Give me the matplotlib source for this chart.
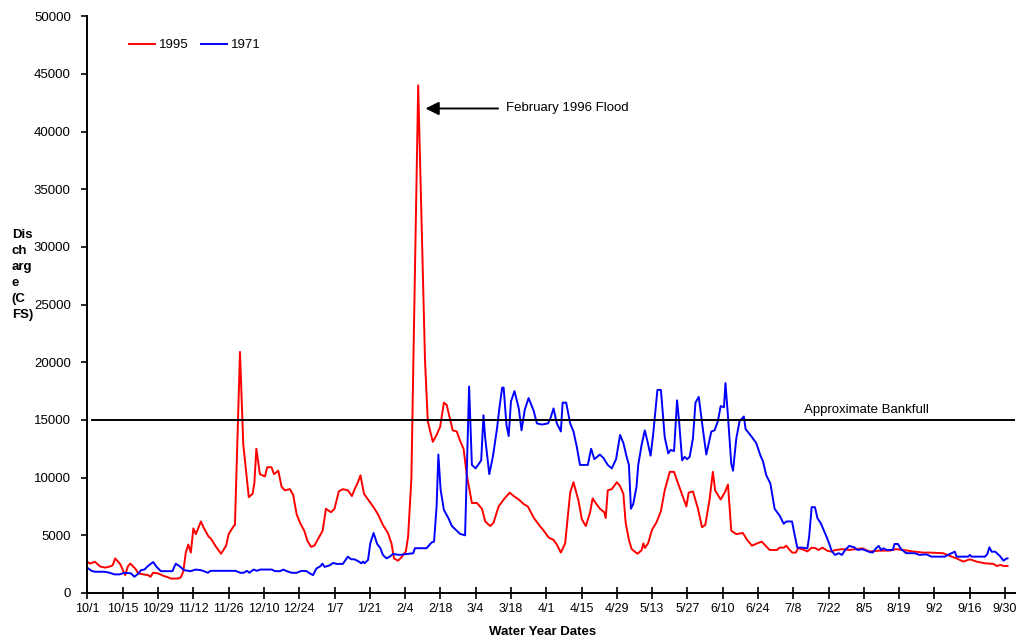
import matplotlib
matplotlib.use("Agg")
import matplotlib.pyplot as plt

plt.rcParams["font.family"] = ["Liberation Sans", "DejaVu Sans"]

# day offsets from 10/1 and discharge (cfs)
days_1995 = [0, 1, 3, 5, 7, 9, 10, 11, 13, 14, 15, 16, 17, 19, 20, 21, 24, 25, 26, 28,
             30, 32, 33, 36, 37, 38, 39, 40, 41, 42, 43, 45, 46, 48, 49, 51, 53, 55, 56, 58,
             58.5, 60.5, 61.8, 64, 65.5, 66.2, 67, 68.4, 70.4, 71.3, 73, 74, 75.7, 77, 78.3,
             80.3, 81.6, 83, 84.5, 86, 87.3, 88.7, 90, 92, 93.3, 94.6, 96.6, 98, 99.7, 101.3,
             103.3, 104.9, 106, 107.3, 108.3, 109.7, 111.3, 113.3, 115.3, 117.2, 119.2, 120.6,
             121.6, 123.2, 124.6, 126.3, 127.2, 128.5, 129.3, 131.2, 133.9, 135, 137, 138.5,
             139.9, 141.4, 142.5, 143.8, 144.9, 146.5, 147.8, 149.2, 150.5, 152.5, 154.5, 156.5,
             157.8, 159.8, 161.1, 163.1, 165.1, 167.5, 169.1, 171.1, 173.1, 174.7, 177.1, 179.5,
             181, 183, 184.9, 186.2, 187.8, 189.5, 191.5, 192.8, 194.8, 196.1, 197.7, 199.4,
             200.4, 201.6, 203.3, 205, 205.6, 206.4, 208, 210, 211.2, 212.6, 213.5, 214.8,
             215.9, 218.2, 219.8, 220.5, 221.1, 222.4, 224, 225.7, 227.5, 229, 231, 232.7,
             234.3, 236.3, 237.6, 238.5, 240.2, 242.2, 243.8, 245.1, 246.8, 248.1, 249, 251.2,
             252.8, 254.1, 255.4, 257.4, 260, 261.7, 263.6, 265.7, 267.5, 269, 270.6, 273.6,
             274.5, 276.3, 277.2, 278.3, 279.6, 281, 282, 284.3, 285.6, 287.3, 288.9, 290,
             291.6, 293.6, 294.9, 296.9, 299.5, 302.2, 304.9, 307.5, 310.2, 314.2, 318.2, 320.8,
             323.5, 327.5, 331.5, 334.1, 339.4, 342.8, 344.8, 347.4, 350.1, 352.7, 356.1, 359.4,
             360.7, 362.3, 363.4, 365]
flow_1995 = [2700, 2550, 2700, 2300, 2200, 2300, 2400, 3000, 2500, 2000, 1550, 2300, 2550, 2100,
             1750, 1650, 1550, 1400, 1750, 1700, 1500, 1350, 1250, 1250, 1350, 1850, 3500, 4200,
             3500, 5600, 5100, 6200, 5700, 4900, 4700, 4000, 3400, 4100, 5100, 5800, 5900, 20900,
             12900, 8300, 8600, 9500, 12500, 10300, 10100, 10900, 10900, 10300, 10600, 9200, 8900,
             9000, 8500, 6800, 6000, 5400, 4500, 4000, 4100, 4900, 5400, 7300, 7000, 7300, 8800,
             9000, 8900, 8400, 9000, 9600, 10200, 8600, 8100, 7500, 6800, 5900, 5200, 4300, 3000,
             2800, 3100, 3600, 4900, 9900, 20200, 44000, 20200, 14900, 13100, 13700, 14400, 16500,
             16300, 15100, 14100, 14000, 13200, 12500, 10200, 7800, 7800, 7300, 6200, 5800, 6100,
             7500, 8100, 8700, 8400, 8100, 7700, 7500, 6500, 5800, 5400, 4800, 4600, 4200, 3500,
             4300, 8700, 9600, 8000, 6400, 5800, 7000, 8200, 7800, 7300, 7000, 6500, 8900, 9000,
             9600, 9300, 8600, 6100, 4600, 3800, 3400, 3700, 4300, 3900, 4300, 5500, 6100, 7100,
             8900, 10500, 10500, 9500, 8300, 7500, 8700, 8800, 7300, 5700, 5900, 8100, 10500,
             8900, 8100, 8700, 9400, 5400, 5100, 5200, 4600, 4100, 4300, 4450, 4100, 3730, 3730,
             3930, 3930, 4100, 3800, 3500, 3500, 3900, 3730, 3600, 3930, 3870, 3730, 3930, 3650,
             3600, 3730, 3800, 3730, 3800, 3870, 3600, 3670, 3670, 3800, 3730, 3600, 3500, 3500,
             3450, 3150, 3000, 2720, 2920, 2720, 2570, 2520, 2340, 2430, 2340, 2340]

days_1971 = [0, 1.6, 2.9, 6.8, 8.8, 10.8, 12.7, 14.7, 17.3, 18.6, 20, 21.3, 22.6, 23.9, 25.2,
             26.1, 27.2, 29.1, 33.7, 35, 36.4, 38.3, 40.9, 42.9, 44.9, 46.2, 47.8, 48.8, 58.7,
             60.6, 61.9, 63.3, 64.2, 65.9, 67.2, 68.5, 73.1, 74.4, 76.4, 77.7, 79, 81, 83, 84.9,
             86.9, 88.2, 89.5, 90.8, 92.4, 93.2, 94.1, 96.1, 97.4, 98.9, 101.3, 103.3, 104.6,
             105.9, 107.7, 108.6, 109.3, 109.9, 111.3, 112.2, 113.5, 114.9, 116.2, 117.2, 118.6,
             119.9, 121.2, 123.9, 126.6, 129.2, 129.9, 134.5, 136.5, 137.5, 138.5, 139.2, 140.1,
             141.4, 143.2, 144.5, 146.5, 147.8, 149.2, 149.8, 151.4, 152.5, 154, 156.2, 157.1,
             157.8, 159.4, 160.9, 162.5, 163.4, 164.5, 165.1, 166.2, 167.1, 168, 169.4, 171.1,
             172.2, 173.5, 175, 177, 178.3, 180.3, 182.7, 183.6, 184.9, 186.2, 187.8, 188.5,
             189.9, 191.5, 192.8, 194.1, 195.4, 196.8, 198.5, 199.8, 201.1, 203.3, 204.7, 206.4,
             208, 209.7, 211.3, 212.6, 213.9, 214.8, 215.6, 216.5, 217.8, 218.5, 219.8, 221.1,
             222.2, 223.4, 224.4, 226.1, 227.5, 229, 230.4, 231.4, 232.7, 233.9, 234.7, 235.9,
             236.9, 237.9, 238.9, 240.2, 241.2, 242.5, 244.2, 245.5, 247.5, 248.8, 250.1, 251.2,
             252.5, 253.1, 254.1, 255.4, 256.1, 257.4, 258.7, 260.4, 261.1, 263.3, 265.3, 267,
             268, 269.3, 270.9, 272.6, 274.6, 276.2, 277.3, 279.5, 280.4, 281.6, 283.6, 285.6,
             286.3, 287.3, 288.6, 289.6, 290.9, 292.9, 294.2, 295.3, 296.6, 298, 299.3, 300.6,
             302.2, 304.2, 305.5, 307.5, 309.9, 311.5, 312.8, 313.9, 314.8, 315.8, 317.1, 319.5,
             320.2, 321.5, 322.8, 324.8, 328.1, 330.1, 332.8, 334.8, 340.1, 342.1, 344.1, 344.8,
             349.4, 350.1, 350.7, 356.1, 357, 357.8, 358.7, 360.1, 362, 363.4, 364.7, 365]
flow_1971 = [2180, 1920, 1840, 1840, 1750, 1610, 1610, 1750, 1700, 1410, 1640, 1980, 2030, 2320,
             2540, 2680, 2320, 1890, 1890, 2540, 2340, 1980, 1890, 2030, 1980, 1890, 1750, 1920,
             1920, 1750, 1750, 1920, 1750, 2030, 1920, 2030, 2030, 1890, 1890, 2030, 1890, 1750,
             1750, 1920, 1890, 1700, 1550, 2120, 2320, 2540, 2260, 2400, 2600, 2520, 2520, 3150,
             2920, 2920, 2720, 2570, 2720, 2570, 2860, 4310, 5200, 4260, 3880, 3300, 3000, 3150,
             3380, 3300, 3380, 3440, 3880, 3880, 4370, 4460, 7500, 12000, 8940, 7200, 6480, 5820,
             5400, 5120, 5030, 5000, 17900, 11100, 10800, 11500, 15400, 13400, 10300, 11900,
             14300, 16000, 17800, 17800, 14600, 13600, 16600, 17500, 16000, 14100, 15900, 16900,
             15800, 14700, 14600, 14700, 15100, 16000, 14700, 14000, 16500, 16500, 14700, 14000,
             12700, 11100, 11100, 11100, 12500, 11600, 12000, 11700, 11100, 10800, 11600, 13700,
             13000, 11800, 11100, 7300, 7700, 9200, 11100, 12800, 14100, 13100, 11900, 13700,
             17600, 17600, 13500, 12100, 12400, 12300, 16700, 14900, 11500, 11800, 11600, 11800,
             13400, 16500, 17000, 14100, 12000, 14000, 14100, 14900, 16200, 16100, 18200, 15300,
             11200, 10600, 13400, 14900, 15300, 14200, 13600, 13000, 11900, 11400, 10200, 9500,
             7300, 6700, 6000, 6200, 6200, 5200, 3930, 3930, 3870, 4890, 7440, 7440, 6480, 6050,
             5030, 4310, 3600, 3300, 3450, 3300, 3730, 4080, 3960, 3730, 3790, 3580, 3500, 3870,
             4080, 3730, 3870, 3730, 3730, 4250, 4250, 3790, 3450, 3450, 3300, 3350, 3150, 3150,
             3380, 3580, 3150, 3150, 3300, 3150, 3150, 3380, 3960, 3580, 3580, 3200, 2800, 3000,
             3000]

tick_days = list(range(0, 365, 14))
tick_labels = ["10/1", "10/15", "10/29", "11/12", "11/26", "12/10", "12/24", "1/7", "1/21",
               "2/4", "2/18", "3/4", "3/18", "4/1", "4/15", "4/29", "5/13", "5/27", "6/10",
               "6/24", "7/8", "7/22", "8/5", "8/19", "9/2", "9/16", "9/30"]
bankfull = 15000
flood_peak = 44000

fig = plt.figure(figsize=(10.16, 6.43), dpi=100)
ax = fig.add_axes([0.0861, 0.0778, 0.913, 0.897])

ax.plot(days_1995, flow_1995, color="#ff0000", lw=1.4, label="1995")
ax.plot(days_1971, flow_1971, color="#0000ff", lw=1.4, label="1971")
ax.axhline(bankfull, xmin=0.005, xmax=1, color="black", lw=1.4)

ax.set_xlim(0, 368)
ax.set_ylim(0, 50000)
ax.set_yticks(range(0, 50001, 5000))
ax.set_xticks(tick_days)
ax.set_xticklabels(tick_labels, fontsize=9)
ax.tick_params(axis="y", labelsize=9.5, length=4, width=1.2, pad=8, direction="out")
ax.tick_params(axis="x", length=8, width=1.2, pad=3, direction="inout")
for s in ["top", "right"]:
    ax.spines[s].set_visible(False)
for s in ["left", "bottom"]:
    ax.spines[s].set_linewidth(1.4)

ax.text(309, bankfull + 300, "Approximate Bankfull", fontsize=9.5, ha="center", va="bottom")
ax.annotate("", xy=(133, flood_peak - 2000), xytext=(164, flood_peak - 2000),
            arrowprops=dict(arrowstyle="-|>", color="black", lw=1.4, mutation_scale=20))
ax.text(166, flood_peak - 2000, "February 1996 Flood", fontsize=9.5, va="center")

ax.legend(loc="center left", bbox_to_anchor=(0.032, 0.95), ncol=2, frameon=False,
          fontsize=9.5, handlelength=2.0, columnspacing=0.9, handletextpad=0.3)

fig.text(0.0115, 0.572, "Dis\nch\narg\ne\n(C\nFS)", fontsize=9.5, fontweight="bold",
         va="center", ha="left", linespacing=1.45)
fig.text(0.534, 0.017, "Water Year Dates", fontsize=9.5, fontweight="bold",
         ha="center", va="center")

fig.savefig("out.png", dpi=100)
